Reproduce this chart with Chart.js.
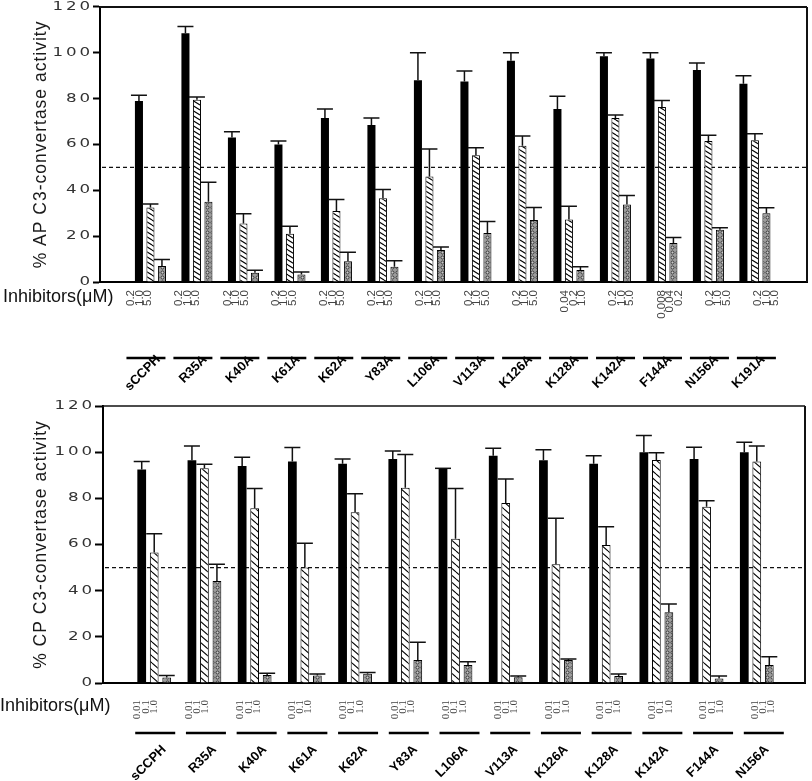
<!DOCTYPE html>
<html>
<head>
<meta charset="utf-8">
<script src="https://cdn.jsdelivr.net/npm/chart.js@4.4.0/dist/chart.umd.min.js"></script>
<style>
  body { margin: 0; background: #fff; }
  canvas { display: block; }
</style>
</head>
<body>
<canvas id="apChart" width="812" height="390"></canvas>
<canvas id="cpChart" width="812" height="391"></canvas>
<script>
// ---- data ----
const THRESHOLD = 50;

// AP C3-convertase panel
const AP_MUTANTS = ["sCCPH", "R35A", "K40A", "K61A", "K62A", "Y83A", "L106A", "V113A", "K126A", "K128A", "K142A", "F144A", "N156A", "K191A"];
const STD_AP = ["0.2", "1.0", "5.0"];
const AP_DOSES = [STD_AP, STD_AP, STD_AP, STD_AP, STD_AP, STD_AP, STD_AP, STD_AP, STD_AP,
  ["0.04", "0.2", "1.0"], STD_AP, ["0.008", "0.04", "0.2"], STD_AP, STD_AP];
const AP_LOW = [79, 108.5, 63, 60, 71.5, 68.5, 88, 87.5, 96.5, 75.5, 98.5, 97.5, 92.5, 86.5];
const AP_LOW_SD = [2.5, 3, 2.5, 1.5, 4, 3, 12, 4.5, 3.5, 5.5, 1.5, 2.5, 3, 3.5];
const AP_MID = [32.5, 79.5, 25.5, 21, 31, 36.5, 46, 55.3, 59.4, 27.3, 71.5, 76.3, 61.5, 61.8];
const AP_MID_SD = [1.5, 1.2, 4.3, 3.3, 5, 3.8, 12, 3.3, 4.3, 5.7, 1.3, 2.9, 2.5, 2.9];
const AP_HIGH = [7, 35, 4, 3.3, 9, 6.7, 14, 21.4, 27, 5.2, 33.8, 17, 22.8, 30];
const AP_HIGH_SD = [2.8, 8.5, 1.1, 1.1, 4, 2.6, 1.3, 5, 5.5, 1.4, 3.9, 2.4, 0.9, 2.4];

// CP C3-convertase panel
const CP_MUTANTS = ["sCCPH", "R35A", "K40A", "K61A", "K62A", "Y83A", "L106A", "V113A", "K126A", "K128A", "K142A", "F144A", "N156A"];
const CP_DOSES = CP_MUTANTS.map(() => ["0.01", "0.1", "1.0"]);
const CP_LOW = [92.5, 96.5, 94, 96, 95, 97, 93, 98.5, 96.5, 95, 100, 97, 100];
const CP_LOW_SD = [3.5, 6.2, 3.8, 6, 2, 3.5, 0, 3.2, 4.5, 3.4, 7.2, 5.1, 4.3];
const CP_MID = [56.5, 93, 75.7, 50, 74, 84.6, 62.5, 78, 51.4, 59.8, 96.6, 76.3, 96];
const CP_MID_SD = [8.2, 1.8, 8.6, 10.5, 8, 14.4, 21.8, 10.4, 20, 7.9, 3.2, 2.7, 6.7];
const CP_HIGH = [2.4, 44.2, 3.5, 3.2, 4, 10, 7.8, 2.5, 10, 3, 30.6, 2, 7.8];
const CP_HIGH_SD = [0.8, 7.2, 0.7, 0.7, 0.6, 7.6, 1.4, 0.5, 0.4, 0.9, 3.6, 1, 3.6];

const Y_MIN = 0, Y_MAX = 120, Y_STEP = 20;

// ---- fill patterns ----
function hatchPattern(w, h) {
  const c = document.createElement("canvas");
  c.width = w; c.height = h;
  const g = c.getContext("2d");
  g.fillStyle = "#fff";
  g.fillRect(0, 0, w, h);
  g.strokeStyle = "#000";
  g.lineWidth = 1.1;
  [-h, 0, h].forEach((dy) => {
    g.beginPath();
    g.moveTo(0, dy);
    g.lineTo(w, dy + h);
    g.stroke();
  });
  return g.createPattern(c, "repeat");
}

function dotPattern() {
  const c = document.createElement("canvas");
  c.width = 5; c.height = 5;
  const g = c.getContext("2d");
  g.fillStyle = "#9c9c9c";
  g.fillRect(0, 0, 5, 5);
  g.beginPath();
  g.arc(2.5, 2.5, 1.5, 0, Math.PI * 2);
  g.fillStyle = "#cacaca";
  g.fill();
  g.strokeStyle = "#222";
  g.lineWidth = 0.8;
  g.stroke();
  return g.createPattern(c, "repeat");
}

// ---- plugins ----
const errorBars = {
  id: "errorBars",
  afterDatasetsDraw(chart) {
    const ctx = chart.ctx;
    const y = chart.scales.y;
    ctx.save();
    ctx.strokeStyle = "#111";
    ctx.lineWidth = 1.5;
    chart.data.datasets.forEach((ds, d) => {
      chart.getDatasetMeta(d).data.forEach((bar, i) => {
        const top = y.getPixelForValue(ds.data[i].y + ds.sd[i]);
        ctx.beginPath();
        ctx.moveTo(bar.x, bar.y);
        ctx.lineTo(bar.x, top);
        ctx.moveTo(bar.x - 8, top);
        ctx.lineTo(bar.x + 8, top);
        ctx.stroke();
      });
    });
    ctx.restore();
  },
};

const threshold = {
  id: "threshold",
  beforeDatasetsDraw(chart) {
    const { ctx, chartArea } = chart;
    const yy = chart.scales.y.getPixelForValue(THRESHOLD);
    ctx.save();
    ctx.strokeStyle = "#111";
    ctx.lineWidth = 1.2;
    ctx.setLineDash([4, 3]);
    ctx.beginPath();
    ctx.moveTo(chartArea.left + 2, yy);
    ctx.lineTo(chartArea.right, yy);
    ctx.stroke();
    ctx.restore();
  },
};

// the figure uses a wide, spaced face for the y axis; stretch ours to match
const wideAxis = {
  id: "wideAxis",
  afterLayout(chart) {
    const s = chart.scales.y;
    if (s._wide) return;
    const ctx = chart.ctx;
    const drawLabels = s.drawLabels.bind(s);
    const drawTitle = s.drawTitle.bind(s);
    s.drawLabels = (area) => {
      const x0 = s.right - s.options.grid.tickLength - s.options.ticks.padding;
      ctx.save();
      ctx.translate(x0, 0);
      ctx.scale(1.45, 1);
      ctx.translate(-x0, 0);
      ctx.letterSpacing = "2px";
      drawLabels(area);
      ctx.restore();
    };
    s.drawTitle = () => {
      ctx.save();
      ctx.letterSpacing = "1px";
      drawTitle();
      ctx.restore();
    };
    s._wide = true;
  },
};

function rotText(ctx, txt, x, y, angle, align) {
  ctx.save();
  ctx.translate(x, y);
  ctx.rotate(angle);
  ctx.textAlign = align;
  ctx.textBaseline = "middle";
  ctx.fillText(txt, 0, 0);
  ctx.restore();
}

// frame, "Inhibitors" caption, dose labels and group underlines
function makeDecor(spec) {
  return {
    id: "decor",
    afterDraw(chart) {
      const { ctx, chartArea } = chart;
      const x = chart.scales.x;
      ctx.save();
      ctx.strokeStyle = "#111";
      ctx.lineWidth = spec.frameTop;
      ctx.beginPath();
      ctx.moveTo(chartArea.left, chartArea.top);
      ctx.lineTo(chartArea.right, chartArea.top);
      ctx.stroke();
      ctx.lineWidth = spec.frameRight;
      ctx.beginPath();
      ctx.moveTo(chartArea.right, chartArea.top);
      ctx.lineTo(chartArea.right, chartArea.bottom);
      ctx.stroke();

      ctx.fillStyle = "#111";
      ctx.font = '18px "Liberation Sans"';
      ctx.textAlign = "left";
      ctx.textBaseline = "middle";
      ctx.fillText("Inhibitors(\u03bcM)", spec.inhX, spec.inhY);

      spec.names.forEach((name, i) => {
        const gx = x.getPixelForValue(i);
        ctx.fillStyle = "#444";
        ctx.font = spec.doseFont;
        const cx = gx + spec.doseShift + spec.doseDrift * i;
        spec.doses[i].forEach((t, j) => {
          rotText(ctx, t, cx + (j - 1) * spec.dosePitch, spec.doseTop, -Math.PI / 2, "right");
        });
        const lx = gx + spec.lineShift + spec.lineDrift * i;
        ctx.strokeStyle = "#000";
        ctx.lineWidth = 2.5;
        ctx.beginPath();
        ctx.moveTo(lx - spec.lineW / 2, spec.lineY);
        ctx.lineTo(lx + spec.lineW / 2, spec.lineY);
        ctx.stroke();
      });
      ctx.restore();
    },
  };
}

function makePanel(id, spec) {
  const mk = (vals) => vals.map((v, i) => ({ x: i, y: v }));
  const bar = { categoryPercentage: spec.catPct, barPercentage: spec.barPct };
  return new Chart(id, {
    type: "bar",
    data: {
      datasets: [
        { ...bar, data: mk(spec.low), sd: spec.lowSd, backgroundColor: "#000", borderWidth: 0 },
        { ...bar, data: mk(spec.mid), sd: spec.midSd, backgroundColor: hatchPattern(spec.hatchW, spec.hatchH), borderColor: "#000", borderWidth: 1 },
        { ...bar, data: mk(spec.high), sd: spec.highSd, backgroundColor: dotPattern(), borderColor: "#000", borderWidth: 1 },
      ],
    },
    options: {
      responsive: false,
      animation: false,
      events: [],
      layout: { padding: { top: spec.padTop, right: spec.padRight, left: 0, bottom: 0 } },
      plugins: { legend: { display: false }, tooltip: { enabled: false } },
      scales: {
        x: {
          type: "linear",
          min: spec.xMin,
          max: spec.xMax,
          offset: false,
          afterBuildTicks(s) {
            s.ticks = spec.names.map((_, i) => ({ value: i }));
          },
          ticks: {
            autoSkip: false,
            minRotation: 45,
            maxRotation: 45,
            padding: spec.namePad,
            labelOffset: spec.nameOffset,
            color: "#000",
            font: { family: "Liberation Sans", size: 13, weight: "bold" },
            callback: (v) => spec.names[v],
          },
          grid: { display: false, drawTicks: false },
          border: { display: true, color: "#000", width: 2 },
          afterFit(s) {
            s.height = spec.xHeight;
            s.paddingLeft = 0;
            s.paddingRight = 0;
          },
        },
        y: {
          min: Y_MIN,
          max: Y_MAX,
          ticks: { stepSize: Y_STEP, padding: 0, color: "#333", font: { family: "DejaVu Sans", size: 11.5 } },
          grid: { display: true, drawOnChartArea: false, drawTicks: true, tickLength: spec.tickLen, tickWidth: 2, tickColor: "#000" },
          border: { display: true, color: "#000", width: 2 },
          title: {
            display: true,
            text: spec.yTitle,
            color: "#1a1a1a",
            font: { family: "Liberation Sans", size: 17.5 },
            padding: { top: 31, bottom: 0 },
          },
          afterFit(s) {
            s.width = spec.yWidth;
          },
        },
      },
    },
    plugins: [threshold, errorBars, wideAxis, makeDecor(spec)],
  });
}

makePanel("apChart", {
  names: AP_MUTANTS, doses: AP_DOSES,
  low: AP_LOW, lowSd: AP_LOW_SD, mid: AP_MID, midSd: AP_MID_SD, high: AP_HIGH, highSd: AP_HIGH_SD,
  yTitle: "% AP C3-convertase activity",
  xMin: -1.085, xMax: 14.12, xHeight: 108, yWidth: 100, padTop: 5, padRight: 5, tickLen: 7,
  catPct: 0.742, barPct: 0.7, hatchW: 8, hatchH: 5,
  frameTop: 2, frameRight: 2,
  inhX: 3, inhY: 297,
  doseFont: '11.5px "Liberation Sans"', doseTop: 290, dosePitch: 8.5, doseShift: -11, doseDrift: 1.73,
  lineY: 358, lineW: 39, lineShift: -4.5, lineDrift: 0.46,
  namePad: 70, nameOffset: 8,
});

makePanel("cpChart", {
  names: CP_MUTANTS, doses: CP_DOSES,
  low: CP_LOW, lowSd: CP_LOW_SD, mid: CP_MID, midSd: CP_MID_SD, high: CP_HIGH, highSd: CP_HIGH_SD,
  yTitle: "% CP C3-convertase activity",
  xMin: -1.02, xMax: 12.96, xHeight: 98, yWidth: 103, padTop: 16, padRight: 7, tickLen: 8,
  catPct: 0.747, barPct: 0.7, hatchW: 8, hatchH: 7,
  frameTop: 1.5, frameRight: 2,
  inhX: 0, inhY: 316,
  doseFont: '11px "Liberation Serif"', doseTop: 310, dosePitch: 8.3, doseShift: -8.5, doseDrift: 1.25,
  lineY: 343, lineW: 40, lineShift: 1, lineDrift: 0.5,
  namePad: 59, nameOffset: 10,
});
</script>
</body>
</html>
